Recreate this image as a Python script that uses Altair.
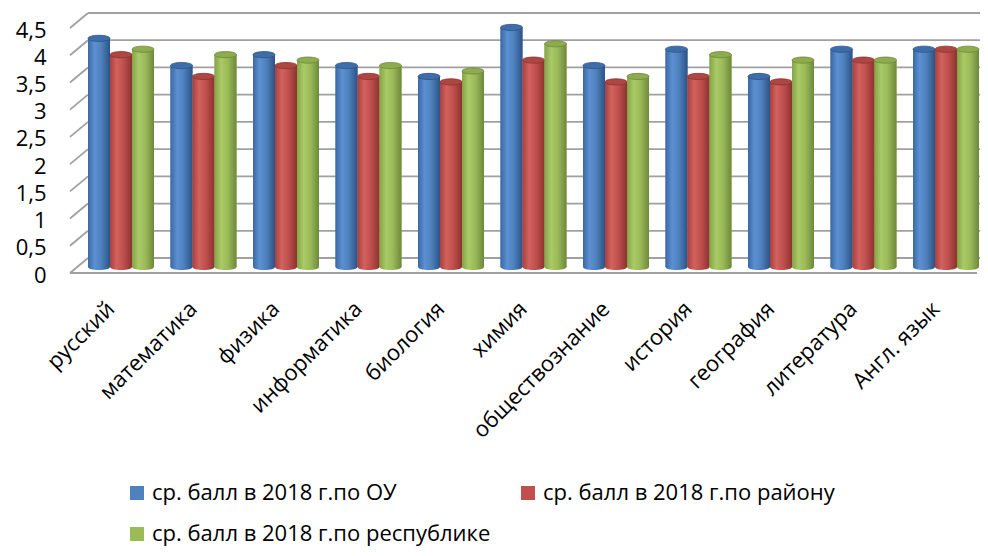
import altair as alt
import pandas as pd

categories = ["русский", "математика", "физика", "информатика", "биология", "химия",
              "обществознание", "история", "география", "литература", "Англ. язык"]
series = ["ср. балл в 2018 г.по ОУ", "ср. балл в 2018 г.по району", "ср. балл в 2018 г.по республике"]
school = [4.2, 3.7, 3.9, 3.7, 3.5, 4.4, 3.7, 4.0, 3.5, 4.0, 4.0]
district = [3.9, 3.5, 3.7, 3.5, 3.4, 3.8, 3.4, 3.5, 3.4, 3.8, 4.0]
republic = [4.0, 3.9, 3.8, 3.7, 3.6, 4.1, 3.5, 3.9, 3.8, 3.8, 4.0]
y_ticks = [0, 0.5, 1, 1.5, 2, 2.5, 3, 3.5, 4, 4.5]

colors = ["#4F81BD", "#C0504D", "#9BBB59"]
grad_stops = [
    ["#3A68A4", "#5C90D2", "#4F81BD", "#2C5386"],
    ["#A8403D", "#D2625E", "#C0504D", "#8C3330"],
    ["#84A346", "#AACA68", "#9BBB59", "#6D883B"],
]
cap_colors = ["#3F6DAA", "#AE4744", "#8DAB4F"]

rows = []
for s, vals in zip(series, [school, district, republic]):
    for c, v in zip(categories, vals):
        rows.append({"cat": c, "series": s, "value": v})
df = pd.DataFrame(rows)
grid_df = pd.DataFrame({"v": y_ticks})

# legend fills column-wise: order so that row 1 = ОУ, району; row 2 = республике
legend_order = [series[0], series[2], series[1]]
legend_colors = [colors[0], colors[2], colors[1]]

FONT = "Open Sans"
W, H = 891, 245

x_enc = alt.X("cat:N", sort=categories,
              scale=alt.Scale(domain=categories, paddingInner=0.2, paddingOuter=0),
              axis=alt.Axis(title=None, labelAngle=-45, labelAlign="right", labelBaseline="middle",
                            labelFont=FONT, labelFontSize=22, labelColor="#000000",
                            labelPadding=38, labelOffset=-10, domain=False, ticks=False, grid=False,
                            labelOverlap=False, labelLimit=300))
xoff_enc = alt.XOffset("series:N", scale=alt.Scale(domain=series, paddingInner=0, paddingOuter=0))
y_scale = alt.Scale(domain=[0, 4.5], nice=False, zero=True)
y_axis = alt.Axis(title=None, values=y_ticks, grid=False, domain=False, ticks=False,
                  labelFont=FONT, labelFontSize=22, labelColor="#000000",
                  labelPadding=42, labelOffset=8, labelFlush=False, labelBaseline="middle",
                  labelExpr="replace(format(datum.value, '~g'), '.', ',')")


def ycol(field):
    return alt.Y(field, scale=y_scale, axis=y_axis)


# back wall gridlines
grid = alt.Chart(grid_df).mark_rule(color="#A0A0A0", strokeWidth=1.8, yOffset=-9).encode(
    y=ycol("v:Q"), x=alt.value(0), x2=alt.value(892))
# left wall diagonals
diag = alt.Chart(grid_df).mark_rule(color="#A0A0A0", strokeWidth=1.8, yOffset=6, y2Offset=-9).encode(
    y=ycol("v:Q"), y2="v:Q", x=alt.value(-18), x2=alt.value(0))
# floor front line
floor = alt.Chart(pd.DataFrame({"v": [0]})).mark_rule(color="#A0A0A0", strokeWidth=1.8, yOffset=6).encode(
    y=ycol("v:Q"), x=alt.value(-18), x2=alt.value(889))

flat = alt.Chart(df).mark_bar().encode(
    x=x_enc, xOffset=xoff_enc, y=ycol("value:Q"),
    color=alt.Color("series:N", sort=legend_order,
                    scale=alt.Scale(domain=legend_order, range=legend_colors),
                    legend=alt.Legend(title=None, orient="none", legendX=38, legendY=460,
                                      columns=2, columnPadding=26, rowPadding=19,
                                      symbolType="square", symbolSize=196, symbolStrokeWidth=0,
                                      symbolOffset=0, labelOffset=4,
                                      labelFont=FONT, labelFontSize=22, labelColor="#000000",
                                      labelLimit=500)))

ellipse = "M-1,0A1,0.28,0,1,1,1,0A1,0.28,0,1,1,-1,0Z"
layers = [grid, diag, floor, flat]
for s, stops, cap in zip(series, grad_stops, cap_colors):
    g = alt.Gradient(gradient="linear", x1=0, x2=1, y1=0, y2=0,
                     stops=[alt.GradientStop(color=stops[0], offset=0),
                            alt.GradientStop(color=stops[1], offset=0.3),
                            alt.GradientStop(color=stops[2], offset=0.6),
                            alt.GradientStop(color=stops[3], offset=1)])
    sub = alt.Chart(df).transform_filter(alt.datum.series == s)
    bottom = sub.transform_calculate(zero="0").mark_point(
        shape=ellipse, size=484, filled=True, fill=g, opacity=1, strokeWidth=0).encode(
        x=x_enc, xOffset=xoff_enc, y=ycol("zero:Q"))
    bar = sub.mark_bar(fill=g).encode(x=x_enc, xOffset=xoff_enc, y=ycol("value:Q"))
    top = sub.mark_point(shape=ellipse, size=484, filled=True, fill=cap, opacity=1,
                         stroke=stops[3], strokeWidth=0.8).encode(
        x=x_enc, xOffset=xoff_enc, y=ycol("value:Q"))
    layers += [bottom, bar, top]

chart = alt.layer(*layers).properties(
    width=W, height=H,
    padding={"left": 80, "top": 14, "right": 1, "bottom": 281},
    autosize=alt.AutoSizeParams(type="none"),
).configure_view(stroke=None)

chart.save("out.html", embed_options={"renderer": "svg", "actions": False})
